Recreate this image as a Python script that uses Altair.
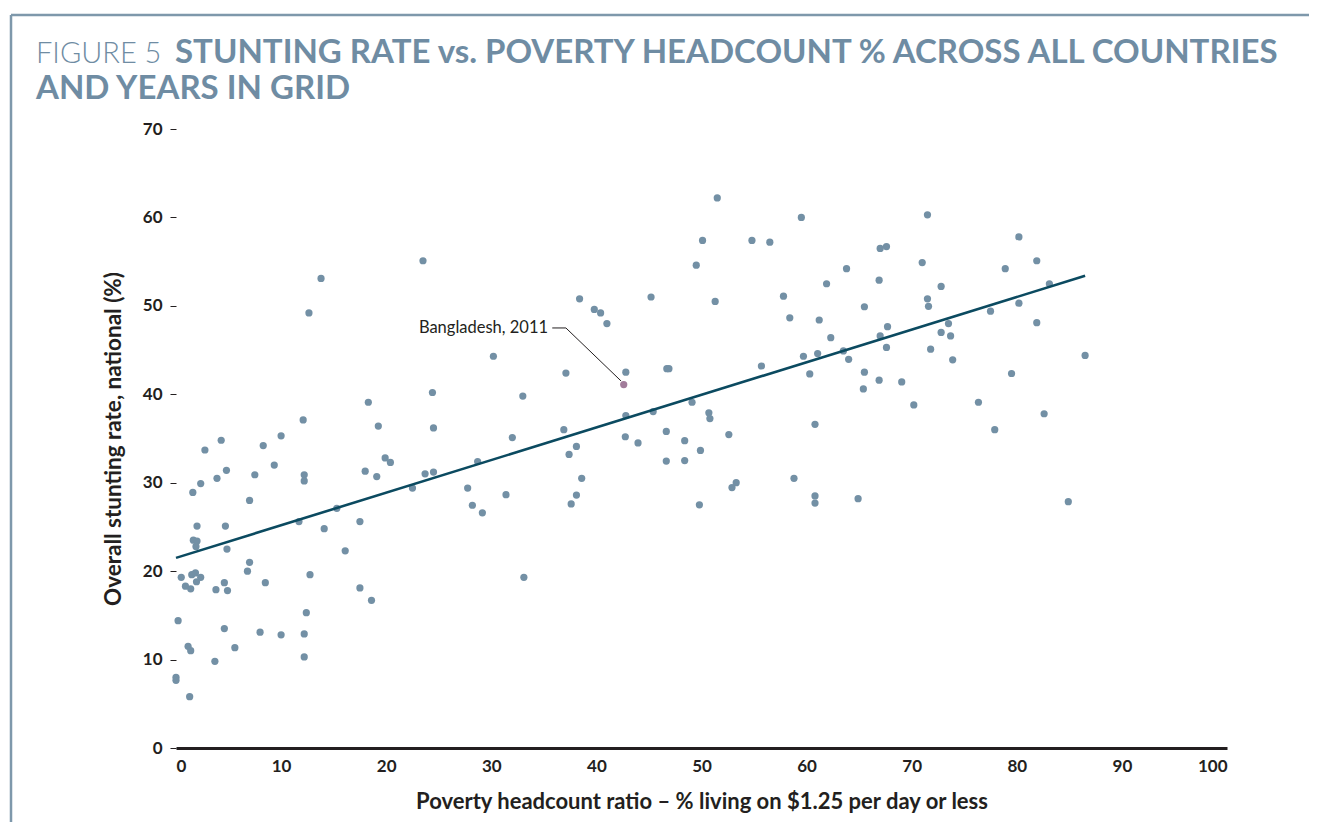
import altair as alt
import pandas as pd

poverty = [0.2, 0.0, 0.0, 0.5, 0.9, 1.4, 1.15, 1.4, 1.3, 1.6, 1.65, 2.0, 1.9, 2.0, 1.5, 1.85, 1.95, 2.35,
           2.35, 2.75, 3.7, 3.8, 3.9, 4.3, 4.6, 4.6, 4.7, 4.8, 4.9, 4.85, 5.6, 6.8, 7.0, 7.0, 7.5, 8.0,
           8.3, 8.5, 9.35, 10.0, 10.0, 11.7, 12.1, 12.2, 12.2, 12.2, 12.2, 12.4, 12.75, 12.65, 13.8, 14.1,
           15.3, 16.1, 17.5, 17.5, 18.0, 18.3, 18.6, 19.1, 19.25, 19.9, 20.4, 22.5, 23.5, 23.7, 24.4, 24.5,
           24.5, 27.75, 28.2, 28.7, 29.15, 30.2, 31.4, 32.0, 33.0, 33.1, 36.9, 37.1, 37.4, 37.6, 38.1, 38.1,
           38.4, 38.6, 39.8, 40.4, 41.0, 42.8, 42.8, 42.75, 43.96, 45.2, 45.4, 46.65, 46.65, 46.7, 46.9,
           48.4, 48.4, 49.1, 49.5, 49.8, 49.9, 50.1, 50.7, 50.8, 51.3, 51.5, 52.6, 52.9, 53.3, 54.8, 55.7,
           56.5, 57.8, 58.4, 58.8, 59.5, 59.7, 60.3, 60.8, 60.8, 60.8, 61.05, 61.2, 61.9, 62.3, 63.5, 63.8,
           64.0, 64.9, 65.4, 65.5, 65.5, 66.9, 66.9, 67.0, 67.0, 67.6, 67.6, 67.7, 69.05, 70.2, 71.0, 71.5,
           71.5, 71.6, 71.8, 72.8, 72.8, 73.5, 73.7, 73.9, 76.35, 77.5, 77.9, 78.9, 79.5, 80.2, 80.2, 81.9,
           81.9, 82.6, 83.1, 84.9, 86.5]
stunting = [14.4, 8.0, 7.65, 19.3, 18.3, 18.0, 11.5, 11.0, 5.8, 28.9, 23.5, 23.4, 22.8, 25.1, 19.6, 19.8, 18.8, 19.3,
            29.9, 33.7, 9.8, 17.9, 30.5, 34.8, 13.5, 18.7, 25.1, 31.4, 17.8, 22.5, 11.35, 20.0, 21.0, 28.0, 30.9, 13.1,
            34.2, 18.7, 32.0, 12.8, 35.3, 25.6, 37.1, 30.9, 30.2, 12.9, 10.3, 15.3, 19.6, 49.2, 53.1, 24.8,
            27.1, 22.3, 25.6, 18.1, 31.3, 39.1, 16.7, 30.7, 36.4, 32.8, 32.3, 29.4, 55.1, 31.0, 40.2, 36.2,
            31.2, 29.4, 27.45, 32.4, 26.6, 44.3, 28.65, 35.1, 39.8, 19.3, 36.0, 42.4, 33.2, 27.6, 34.1, 28.6,
            50.8, 30.5, 49.6, 49.2, 48.0, 42.5, 37.6, 35.2, 34.5, 51.0, 38.05, 35.8, 32.45, 42.9, 42.9,
            34.75, 32.5, 39.1, 54.6, 27.5, 33.65, 57.4, 37.9, 37.25, 50.5, 62.2, 35.45, 29.45, 30.0, 57.4, 43.2,
            57.2, 51.1, 48.65, 30.5, 60.0, 44.3, 42.3, 36.6, 28.5, 27.7, 44.6, 48.4, 52.5, 46.4, 44.9, 54.2,
            43.95, 28.2, 40.6, 49.9, 42.5, 52.9, 41.6, 56.5, 46.6, 56.7, 45.3, 47.65, 41.4, 38.8, 54.9, 60.3,
            50.8, 49.95, 45.1, 52.2, 47.0, 48.0, 46.6, 43.9, 39.1, 49.4, 36.0, 54.2, 42.35, 57.8, 50.3, 55.1,
            48.1, 37.8, 52.5, 27.85, 44.4]

highlight_label = ["Bangladesh, 2011"]
highlight_x = [42.6]
highlight_y = [41.1]
label_x = [35.4]
label_y = [47.5]
leader_x = [35.8, 37.1, 42.35]
leader_y = [47.5, 47.5, 41.5]

trend_x = [0, 86.5]
trend_y = [21.5, 53.4]

title_light = "FIGURE 5"
title_bold_1 = "STUNTING RATE vs. POVERTY HEADCOUNT % ACROSS ALL COUNTRIES"
title_bold_2 = "AND YEARS IN GRID"
x_title = "Poverty headcount ratio – % living on $1.25 per day or less"
y_title = "Overall stunting rate, national (%)"
x_ticks = [0, 10, 20, 30, 40, 50, 60, 70, 80, 90, 100]
y_ticks = [0, 10, 20, 30, 40, 50, 60, 70]

FONT = "Lato"
INK = "#231F20"
BLUE = "#6F8CA3"
PT = "#7390A5"

pts = pd.DataFrame({"x": poverty, "y": stunting})
hl = pd.DataFrame({"x": highlight_x, "y": highlight_y})
lab = pd.DataFrame({"x": label_x, "y": label_y, "t": highlight_label})
lead = pd.DataFrame({"x": leader_x, "y": leader_y, "o": list(range(len(leader_x)))})
trend = pd.DataFrame({"x": trend_x, "y": trend_y})

xs = alt.Scale(domain=[0, 100], nice=False)
ys = alt.Scale(domain=[0, 70], nice=False)

xaxis = alt.Axis(values=x_ticks, title=x_title, grid=False, ticks=False, domain=True,
                 domainColor=INK, domainWidth=3, labelPadding=10, labelFontSize=17,
                 labelFont=FONT, labelFontWeight="bold", labelColor=INK,
                 titleFont=FONT, titleFontSize=22, titleFontWeight="bold", titleColor=INK,
                 titlePadding=17)
yaxis = alt.Axis(values=y_ticks, title=y_title, grid=False, ticks=True, tickSize=6,
                 tickColor=INK, tickWidth=1, domain=False, labelPadding=8, labelFontSize=17,
                 labelFont=FONT, labelFontWeight="bold", labelColor=INK,
                 titleFont=FONT, titleFontSize=22.5, titleFontWeight="bold", titleColor=INK,
                 titlePadding=17)

points = alt.Chart(pts).mark_circle(size=52, color=PT, opacity=1).encode(
    x=alt.X("x:Q", scale=xs, axis=xaxis),
    y=alt.Y("y:Q", scale=ys, axis=yaxis),
)
hl_pt = alt.Chart(hl).mark_circle(size=52, color="#A27D9B", opacity=1).encode(
    x=alt.X("x:Q", scale=xs), y=alt.Y("y:Q", scale=ys))
trend_line = alt.Chart(trend).mark_line(color="#0B4A60", strokeWidth=2.6).encode(
    x=alt.X("x:Q", scale=xs), y=alt.Y("y:Q", scale=ys))
leader = alt.Chart(lead).mark_line(color=INK, strokeWidth=1).encode(
    x=alt.X("x:Q", scale=xs), y=alt.Y("y:Q", scale=ys), order="o:Q")
label = alt.Chart(lab).mark_text(align="right", baseline="middle", font=FONT, fontSize=16.5,
                                 color=INK).encode(
    x=alt.X("x:Q", scale=xs), y=alt.Y("y:Q", scale=ys), text="t:N")

tdf = pd.DataFrame({"a": [title_light], "b": [title_bold_1], "c": [title_bold_2]})
t1 = alt.Chart(tdf).mark_text(align="left", baseline="alphabetic", font=FONT, fontSize=29,
                              fontWeight=300, color=BLUE).encode(
    x=alt.value(-140), y=alt.value(-66), text="a:N")
t2 = alt.Chart(tdf).mark_text(align="left", baseline="alphabetic", font=FONT, fontSize=33,
                              fontWeight="bold", color=BLUE).encode(
    x=alt.value(-1), y=alt.value(-66), text="b:N")
t3 = alt.Chart(tdf).mark_text(align="left", baseline="alphabetic", font=FONT, fontSize=33,
                              fontWeight="bold", color=BLUE).encode(
    x=alt.value(-140), y=alt.value(-30), text="c:N")

frame_top = alt.Chart(tdf).mark_rule(color="#7E98AB", strokeWidth=2.5).encode(
    x=alt.value(-165), x2=alt.value(1140), y=alt.value(-114))
frame_left = alt.Chart(tdf).mark_rule(color="#7E98AB", strokeWidth=2.5).encode(
    x=alt.value(-165), y=alt.value(-114), y2=alt.value(720))

chart = alt.layer(frame_top, frame_left, t1, t2, t3, points, hl_pt, trend_line, leader, label).properties(
    width=1051, height=619,
    padding={"left": 168, "top": 121, "right": 82, "bottom": 74},
    autosize=alt.AutoSizeParams(type="none"),
    background="white",
).configure_view(stroke=None, strokeWidth=0)

chart.save("out.html", embed_options={"renderer": "svg", "actions": False})
